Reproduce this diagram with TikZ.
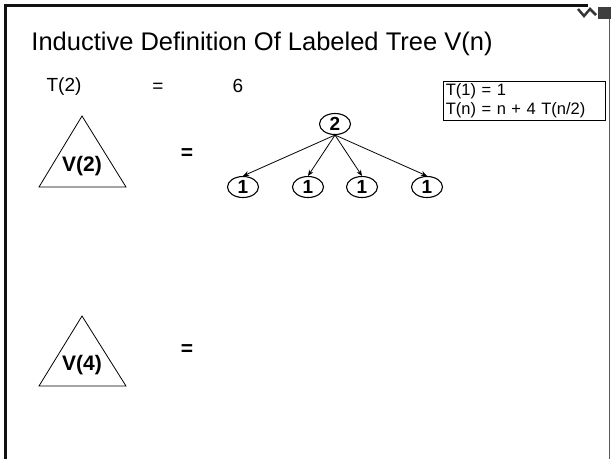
\documentclass[tikz,border=0pt]{standalone}
\usepackage{fontspec}
\setmainfont{Liberation Sans}
\usetikzlibrary{arrows.meta,positioning,shapes.geometric}
\definecolor{frame}{HTML}{111111}
\definecolor{rim}{HTML}{5a5a5a}

\begin{document}
\begin{tikzpicture}[x=1pt, y=-1pt, line width=0.8pt,
  lbl/.style={font=\bfseries\fontsize{21}{24}\selectfont, inner sep=0pt},
  vtx/.style={draw, ellipse, line width=1.1pt, minimum width=31pt, minimum height=21pt, inner sep=0pt, font=\bfseries\fontsize{19}{20}\selectfont},
  txt/.style={font=\fontsize{19}{22}\selectfont, inner sep=0pt},
  arr/.style={-{Stealth[length=6pt,width=5pt]}, line width=0.8pt}
]
\useasboundingbox (0,0) rectangle (612,459);
% slide frame and corner mark
\draw[line width=3pt, frame] (5,459) -- (5,5.5) -- (588,5.5);
\draw[line width=1pt, rim] (609.5,8) -- (609.5,459);
\draw[line width=2.5pt, rim!60!black] (578,9) -- (584,16) -- (590,9) -- (596,15);
\fill[rim!70!black] (598,7) rectangle (611,19);

\node[font=\fontsize{25.5}{30}\selectfont, inner sep=0pt] (title) at (262,44) {Inductive Definition Of Labeled Tree V(n)};

\node[txt] (cost) at (64,87) {T(2)};
\node[txt] (costeq) at (158,88) {=};
\node[txt] (costval) at (238,86) {6};

\node[draw, anchor=north west, text width=157pt, minimum height=38pt, inner sep=2.5pt, align=left,
      font=\fontsize{16.5}{18.5}\selectfont] (rec) at (443,81) {T(1) = 1\\T(n) = n + 4 T(n/2)};

% V(2)
\draw (82,116) -- (126,187) -- (39,187) -- cycle;
\node[lbl] (v2) at (82,166) {V(2)};
\node[lbl] (eq2) at (187,154) {=};

\node[vtx] (root) at (335,124) {2};
\foreach \x [count=\i] in {243,308,362,427}
  \node[vtx] (c\i) at (\x,187) {1};
\foreach \i in {1,...,4}
  \draw[arr] (root.south) -- (c\i.north);

% V(4)
\draw (82,316) -- (126,386) -- (39,386) -- cycle;
\node[lbl] (v4) at (82,365) {V(4)};
\node[lbl] (eq4) at (187,350) {=};
\end{tikzpicture}
\end{document}
